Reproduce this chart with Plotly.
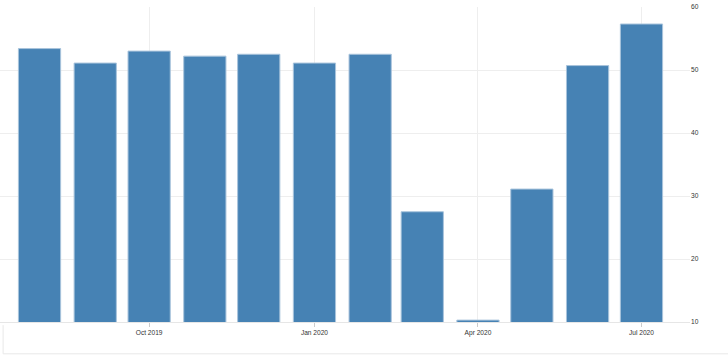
import plotly.graph_objects as go

months = ["2019-08-01", "2019-09-01", "2019-10-01", "2019-11-01", "2019-12-01",
          "2020-01-01", "2020-02-01", "2020-03-01", "2020-04-01", "2020-05-01",
          "2020-06-01", "2020-07-01"]
values = [53.4, 51.1, 53.0, 52.2, 52.5, 51.1, 52.5, 27.5, 10.3, 31.1, 50.7, 57.3]
x_tick_vals = ["2019-10-01", "2020-01-01", "2020-04-01", "2020-07-01"]
x_tick_text = ["Oct 2019", "Jan 2020", "Apr 2020", "Jul 2020"]
y_ticks = [10, 20, 30, 40, 50, 60]

fig = go.Figure(go.Bar(
    x=months, y=values,
    width=23.5 * 86400000,
    marker=dict(color="#4682B4", line=dict(color="#a9c4dc", width=1)),
    hoverinfo="x+y",
))

fig.update_layout(
    width=728, height=358,
    margin=dict(l=0, r=38, t=7, b=36),
    paper_bgcolor="white", plot_bgcolor="white",
    showlegend=False,
    font=dict(family="Liberation Sans, Arial, sans-serif", size=6.6, color="#333333"),
    xaxis=dict(
        type="date",
        range=["2019-07-10", "2020-07-28"],
        tickvals=x_tick_vals, ticktext=x_tick_text,
        showgrid=True, gridcolor="#eeeeee", gridwidth=1,
        ticks="outside", ticklen=4, tickcolor="#cccccc",
        showline=True, linecolor="#e6e6e6", linewidth=1,
        zeroline=False,
    ),
    yaxis=dict(
        side="right",
        range=[10, 60],
        tickvals=y_ticks,
        showgrid=True, gridcolor="#eeeeee", gridwidth=1,
        zeroline=False, ticks="", showline=False,
    ),
    shapes=[dict(type="line", xref="paper", yref="paper", x0=0.0045, x1=1.06,
                 y0=-0.101, y1=-0.101, line=dict(color="#e8e8e8", width=1)),
            dict(type="line", xref="paper", yref="paper", x0=0.0045, x1=0.0045,
                 y0=-0.01, y1=-0.101, line=dict(color="#e8e8e8", width=1))],
)

fig.write_html("out.html")
